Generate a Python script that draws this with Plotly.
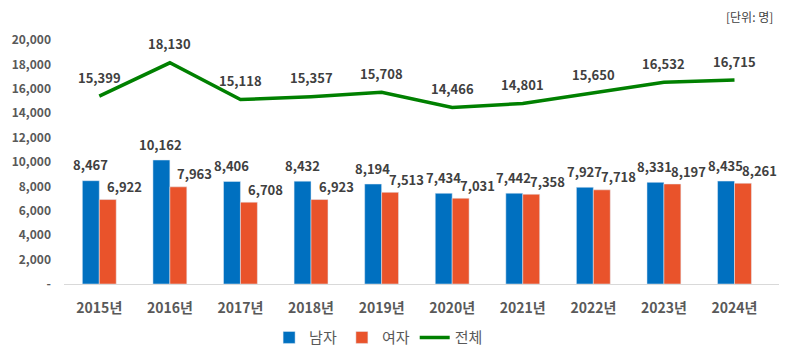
import plotly.graph_objects as go

years = ["2015년", "2016년", "2017년", "2018년", "2019년", "2020년", "2021년", "2022년", "2023년", "2024년"]
male = [8467, 10162, 8406, 8432, 8194, 7434, 7442, 7927, 8331, 8435]
female = [6922, 7963, 6708, 6923, 7513, 7031, 7358, 7718, 8197, 8261]
total = [15399, 18130, 15118, 15357, 15708, 14466, 14801, 15650, 16532, 16715]
ytick_vals = [0, 2000, 4000, 6000, 8000, 10000, 12000, 14000, 16000, 18000, 20000]
ytick_text = ["-", "2,000", "4,000", "6,000", "8,000", "10,000", "12,000", "14,000", "16,000", "18,000", "20,000"]

FONT = "Noto Sans CJK KR"
LBL = "#404040"

fig = go.Figure()
fig.add_trace(go.Bar(x=years, y=male, name="남자", marker_color="#0070C0"))
fig.add_trace(go.Bar(x=years, y=female, name="여자", marker_color="#E9532B"))
fig.add_trace(go.Scatter(x=years, y=total, name="전체", mode="lines",
                         line=dict(color="#008000", width=3.5)))

ann = []
for yr, v in zip(years, male):
    ann.append(dict(x=yr, y=v, text=f"{v:,}", showarrow=False, xshift=-9, yshift=16,
                    font=dict(family=FONT, size=13, color=LBL, weight="bold")))
for yr, v in zip(years, female):
    ann.append(dict(x=yr, y=v, text=f"{v:,}", showarrow=False, xshift=25, yshift=13,
                    font=dict(family=FONT, size=13, color=LBL, weight="bold")))
for yr, v in zip(years, total):
    ann.append(dict(x=yr, y=v, text=f"{v:,}", showarrow=False, yshift=19,
                    font=dict(family=FONT, size=13, color=LBL, weight="bold")))
ann.append(dict(xref="paper", yref="paper", x=1.0, y=1.0, yshift=24, xshift=-4,
                xanchor="right", yanchor="middle",
                text="[단위: 명]", showarrow=False,
                font=dict(family=FONT, size=12, color="#404040")))

fig.update_layout(
    width=779, height=349,
    margin=dict(l=56, r=8, t=32, b=73, autoexpand=False),
    paper_bgcolor="white", plot_bgcolor="white",
    barmode="group", bargap=0.52, bargroupgap=0,
    font=dict(family=FONT, color="#595959"),
    showlegend=True,
    legend=dict(orientation="h", x=0.44, xanchor="center", y=-0.22, yanchor="middle",
                font=dict(family=FONT, size=15, color="#595959"), itemwidth=30,
                tracegroupgap=0, traceorder="normal"),
    annotations=ann,
)
fig.update_xaxes(showgrid=False, showline=True, linecolor="#D9D9D9", linewidth=1,
                 automargin=False, ticklabelstandoff=11,
                 ticks="", tickfont=dict(family=FONT, size=14, color="#595959", weight="bold"))
fig.update_yaxes(range=[0, 20000], showgrid=False, zeroline=False, showline=False,
                 automargin=False, ticklabelstandoff=12,
                 tickvals=ytick_vals, ticktext=ytick_text, ticks="",
                 tickfont=dict(family=FONT, size=12, color="#595959", weight="bold"))

fig.write_html("out.html")
